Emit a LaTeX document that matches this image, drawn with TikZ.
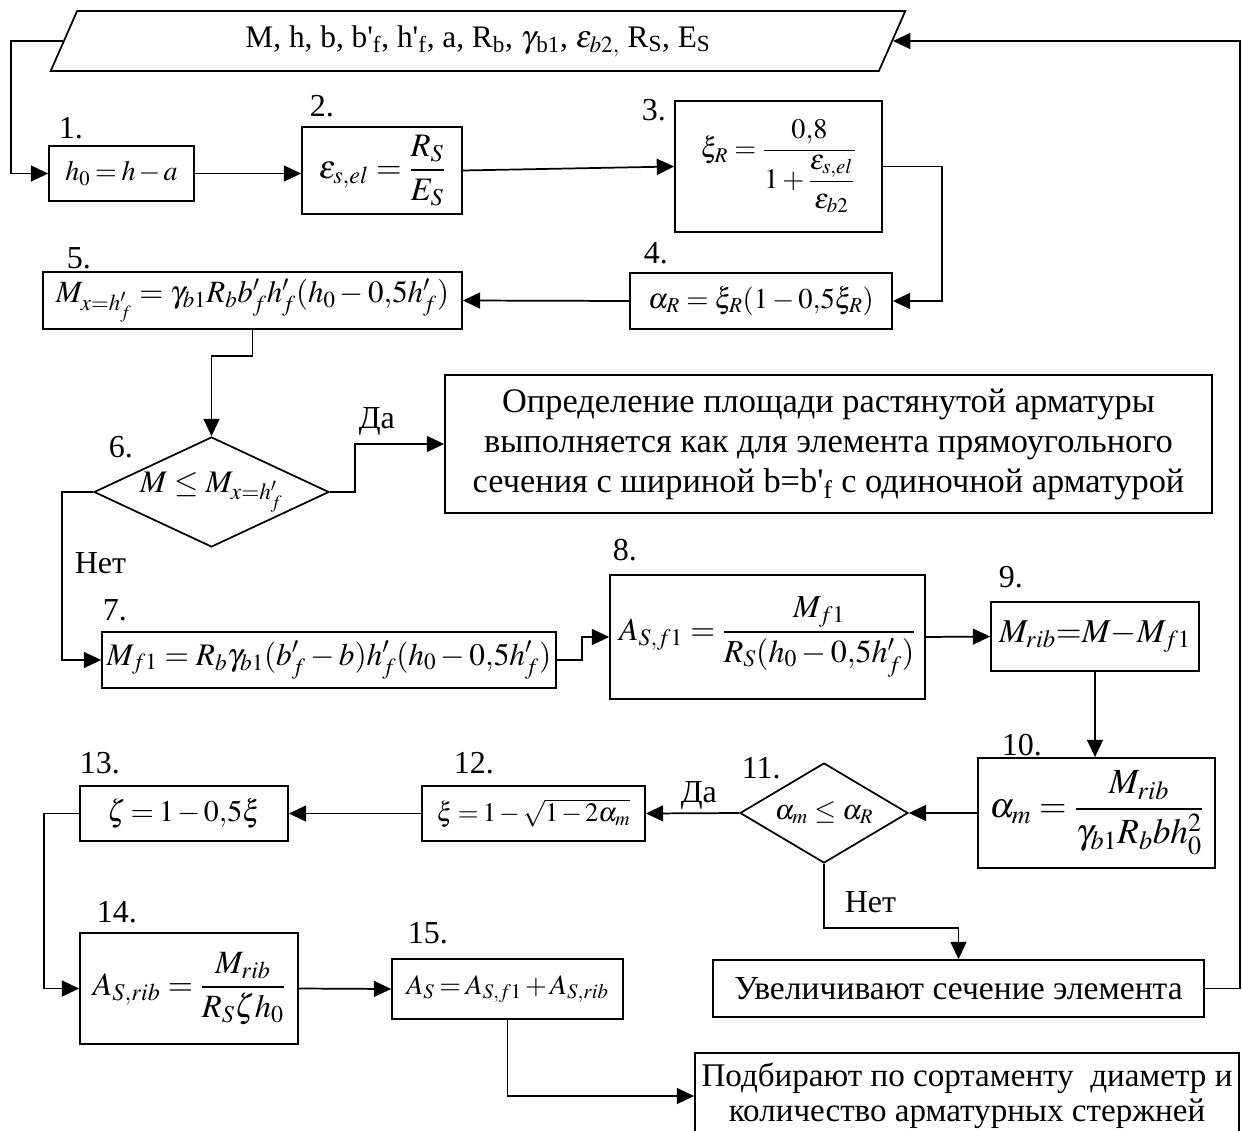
\documentclass[tikz,border=0pt]{standalone}
\usepackage{amsmath}
\usepackage{mathptmx}
\usepackage{fontspec}
\setmainfont{Liberation Serif}
\usetikzlibrary{shapes.geometric}
\usetikzlibrary{arrows.meta}

\tikzset{
  blk/.style 2 args={draw, rectangle, inner sep=0pt, minimum width=#1*0.75pt, minimum height=#2*0.75pt},
  dec/.style 2 args={draw, diamond, inner sep=-3pt, minimum width=#1*0.75pt, minimum height=#2*0.75pt},
  fsz/.style={font=\fontsize{#1}{#1}\selectfont},
  tight/.style={execute at begin node={\thickmuskip=3mu\medmuskip=2mu}},
  num/.style={anchor=base west, inner sep=0pt, font=\fontsize{24}{28}\selectfont},
  arr/.style={-{Triangle[length=13pt,width=12pt]}},
}

\begin{document}
\begin{tikzpicture}[x=0.75pt,y=0.75pt,yscale=-1,xscale=1,line width=1.3pt]
\useasboundingbox (0,0) rectangle (1242,1131);

%Input data
\node [trapezium, draw, trapezium left angle=64, trapezium right angle=116, trapezium stretches=true, minimum width=856*0.75pt, minimum height=60*0.75pt, inner sep=0pt, fsz=23.5] (inp) at (478,41) {M, h, b, b\textquotesingle\textsubscript{f}, h\textquotesingle\textsubscript{f}, a, R\textsubscript{b}, $\gamma$\textsubscript{b1}, $\varepsilon_{b2,}$ R\textsubscript{S}, E\textsubscript{S}};

%Blocks 1 - 5
\node [blk={145}{55}, fsz=21, tight] (b1) at (121.5,173.5) {$h_0=h-a$};
\node [blk={160}{87}, fsz=24.6] (b2) at (382,170.5) {$\varepsilon_{s,el}=\dfrac{R_S}{E_S}$};
\node [blk={207}{131}, fsz=21.2] (b3) at (778.5,166.5) {$\xi_R=\dfrac{0{,}8}{1+\dfrac{\varepsilon_{s,el}}{\varepsilon_{b2}}}$};
\node [blk={262}{56}, fsz=21.5] (b4) at (761,301) {$\alpha_R=\xi_R(1-0{,}5\xi_R)$};
\node [blk={419}{57}, fsz=23.2] (b5) at (252.5,300.5) {$M_{x=h'_f}=\gamma_{b1}R_b b'_f h'_f(h_0-0{,}5h'_f)$};

%Check 6
\node [dec={235}{110}, aspect=2.14, fsz=23.5] (d6) at (211.5,492) {$M\le M_{x=h'_f}$};
\node [blk={767}{138}, align=center, font=\fontsize{25.8}{30}\selectfont] (bt) at (828.5,444) {Определение площади растянутой арматуры\\выполняется как для элемента прямоугольного\\сечения с шириной b=b\textquotesingle\textsubscript{f} с одиночной арматурой};

%Blocks 7 - 10
\node [blk={454}{56}, fsz=23.5] (b7) at (329,660) {$M_{f1}=R_b\gamma_{b1}(b'_f-b)h'_f(h_0-0{,}5h'_f)$};
\node [blk={315}{124}, fsz=24] (b8) at (767.5,637) {$A_{S,f1}=\dfrac{M_{f1}}{R_S(h_0-0{,}5h'_f)}$};
\node [blk={208}{69}, fsz=25] (b9) at (1095,636.5) {$M_{rib}{=}M{-}M_{f1}$};
\node [blk={237}{110}, fsz=26.5] (b10) at (1096.5,813) {$\alpha_m=\dfrac{M_{rib}}{\gamma_{b1}R_b bh_0^2}$};

%Check 11
\node [dec={168}{100}, aspect=1.68, fsz=21] (d11) at (824,813) {$\alpha_m\le\alpha_R$};
\node [blk={491}{57}, fsz=25.2] (bup) at (958.5,988.5) {Увеличивают сечение элемента};

%Blocks 12 - 15
\node [blk={223}{55}, fsz=20, tight] (b12) at (533.5,813.5) {$\xi=1-\sqrt{1-2\alpha_m}$};
\node [blk={208}{55}, fsz=22.5, tight] (b13) at (184,813.5) {$\zeta=1-0{,}5\xi$};
\node [blk={218}{111}, fsz=24.4] (b14) at (189,988.5) {$A_{S,rib}=\dfrac{M_{rib}}{R_S\zeta h_0}$};
\node [blk={231}{60}, fsz=21, tight] (b15) at (507.5,989) {$A_S=A_{S,f1}+A_{S,rib}$};
\node [blk={544}{86}, align=center, font=\fontsize{24.8}{26}\selectfont] (bsel) at (967,1096) {Подбирают по сортаменту~ диаметр и\\количество арматурных стержней};

%Numbers
\node [num] (n1) at (58,138) {1.};
\node [num] (n2) at (309,117) {2.};
\node [num] (n3) at (641,120) {3.};
\node [num] (n4) at (643,263) {4.};
\node [num] (n5) at (66,268) {5.};
\node [num] (n6) at (108,457) {6.};
\node [num] (n7) at (102,620) {7.};
\node [num] (n8) at (612,560) {8.};
\node [num] (n9) at (998,587) {9.};
\node [num] (n10) at (1001,755) {10.};
\node [num] (n11) at (741,778) {11.};
\node [num] (n12) at (453,773) {12.};
\node [num] (n13) at (79,773) {13.};
\node [num] (n14) at (96,922) {14.};
\node [num] (n15) at (407,943) {15.};

%Yes / No
\node [num] (y6) at (358,428) {Да};
\node [num] (no6) at (74,573) {Нет};
\node [num] (y11) at (680,802) {Да};
\node [num] (no11) at (844,912) {Нет};

%Connectors
\draw [arr] (inp.left side) -- (11,41) |- (b1.west);
\draw [arr] (b1.east) -- (b1.east -| b2.west);
\draw [arr] (b2.east) -- (b3.west);
\draw [arr] (b3.east) -- ++(59,0) |- (b4.east);
\draw [arr] (b4.west) -- (b5.east);
\draw [arr] (b5.south) -- ++(0,26) -| (d6.north);
\draw [arr] (d6.east) -- ++(25,0) |- (bt.west);
\draw [arr] (d6.west) -- ++(-31,0) |- (b7.west);
\draw [arr] (b7.east) -- ++(25,0) |- (b8.west);
\draw [arr] (b8.east) -- (b9.west);
\draw [arr] (b9.south) -- (b9.south |- b10.north);
\draw [arr] (b10.west) -- (d11.east);
\draw [arr] (d11.west) -- (b12.east);
\draw [arr] (d11.south) -- ++(0,64) -| (bup.north);
\draw [arr] (bup.east) -- (1240,988.5) |- (inp.right side);
\draw [arr] (b12.west) -- (b13.east);
\draw [arr] (b13.west) -- ++(-35,0) |- (b14.west);
\draw [arr] (b14.east) -- (b15.west);
\draw [arr] (b15.south) |- (bsel.west);

\end{tikzpicture}
\end{document}
